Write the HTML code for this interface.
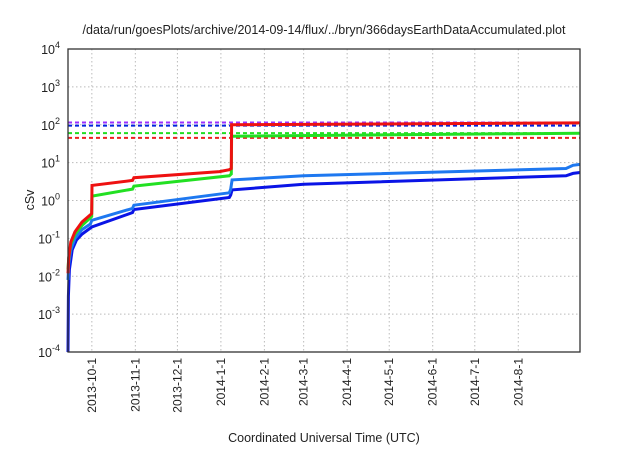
<!DOCTYPE html>
<html><head><meta charset="utf-8"><style>
body{margin:0;background:#fff;}
svg text{font-family:"Liberation Sans",sans-serif;fill:#222;}
</style></head><body>
<svg id="chart" width="640" height="448" xmlns="http://www.w3.org/2000/svg">
<text x="324" y="34" font-size="12.5" text-anchor="middle">/data/run/goesPlots/archive/2014-09-14/flux/../bryn/366daysEarthDataAccumulated.plot</text>
<text transform="translate(34,200) rotate(-90)" font-size="12.5" text-anchor="middle">cSv</text>
<text x="324" y="442" font-size="12.5" text-anchor="middle">Coordinated Universal Time (UTC)</text>
<g id="grid"></g><g id="ticks"></g><g id="series"></g>
<rect x="68" y="49" width="512" height="303" fill="none" stroke="#333" stroke-width="1.3"/>
</svg>
<script>
const yExponents=[-4,-3,-2,-1,0,1,2,3,4];
const xTickLabels=["2013-10-1","2013-11-1","2013-12-1","2014-1-1","2014-2-1","2014-3-1","2014-4-1","2014-5-1","2014-6-1","2014-7-1","2014-8-1"];
const xTickDays=[17,48,78,109,140,168,199,229,260,290,321];
const redDays=[0,0.5,2,5,10,16,16.9,17.1,46,47,108,115,116.4,116.6,365];
const redVals=[0.012,0.03,0.08,0.15,0.27,0.42,0.45,2.5,3.4,4,5.8,6.5,7,100,112];
const greenDays=[0,0.5,2,5,10,16,16.9,17.1,46,47,115,116.4,116.6,365];
const greenVals=[0.015,0.03,0.07,0.13,0.22,0.35,0.38,1.3,2.0,2.4,4.5,5,50,60];
const lblueDays=[0,0.5,2,5,10,16,17,46,47,115,116,117,168,355,360,365];
const lblueVals=[0.008,0.02,0.05,0.1,0.17,0.24,0.3,0.62,0.75,1.6,2,3.5,4.5,7,8.5,9];
const blueDays=[0,0.3,1,3,6,10,17,46,47,115,116,117,168,355,360,365];
const blueVals=[0.0001,0.003,0.015,0.05,0.09,0.13,0.2,0.48,0.58,1.2,1.4,1.9,2.7,4.5,5.2,5.5];
const limitNames=["purple","blue","green","red"];
const limitVals=[115,95,60,45];
const limitColors=["#9b30ff","#0022dd","#22dd22","#ee2020"];

const X0=68,X1=580,Y0=352,Y1=49,DAYS=365;
const xs=d=>X0+(X1-X0)*d/DAYS;
const ys=v=>Y0-(Y0-Y1)*(Math.log10(v)+4)/8;
const NS="http://www.w3.org/2000/svg";
function mk(tag,parent){const e=document.createElementNS(NS,tag);document.getElementById(parent).appendChild(e);return e;}
yExponents.forEach(p=>{
  const y=ys(Math.pow(10,p));
  if(p>-4&&p<4){const g=mk('line','grid');
  
  
  g.setAttribute('x1',X0);g.setAttribute('x2',X1);g.setAttribute('y1',y);g.setAttribute('y2',y);
  g.setAttribute('stroke','#bbb');g.setAttribute('stroke-dasharray','1.5,2.5');}
  const t=mk('text','ticks');
  
  
  t.setAttribute('x',X0-8);t.setAttribute('y',y+5);t.setAttribute('text-anchor','end');t.setAttribute('font-size','12.5');
  t.innerHTML='10<tspan font-size="9" dy="-6">'+p+'</tspan>';
});
xTickDays.forEach((d,i)=>{
  const x=xs(d);
  const g=mk('line','grid');
  
  
  g.setAttribute('x1',x);g.setAttribute('x2',x);g.setAttribute('y1',Y1);g.setAttribute('y2',Y0);
  g.setAttribute('stroke','#bbb');g.setAttribute('stroke-dasharray','1.5,2.5');
  const t=mk('text','ticks');
  
  
  t.setAttribute('transform','translate('+(x+4)+',358) rotate(-90)');
  t.setAttribute('text-anchor','end');t.setAttribute('font-size','12');
  t.textContent=xTickLabels[i];
});
limitVals.forEach((v,i)=>{
  const l=mk('line','series');
  
  
  l.setAttribute('x1',X0);l.setAttribute('x2',X1);l.setAttribute('y1',ys(v));l.setAttribute('y2',ys(v));
  l.setAttribute('stroke',limitColors[i]);l.setAttribute('stroke-width','2');l.setAttribute('stroke-dasharray','4,3');
});
function series(days,vals,color,name){
  const p=mk('path','series');
  
  
  p.setAttribute('d',days.map((d,i)=>(i?'L':'M')+xs(d).toFixed(1)+','+ys(vals[i]).toFixed(1)).join(''));
  p.setAttribute('fill','none');p.setAttribute('stroke',color);p.setAttribute('stroke-width','3');
}
series(blueDays,blueVals,'#0a14e6','series-blue');
series(lblueDays,lblueVals,'#1e78f0','series-light-blue');
series(greenDays,greenVals,'#22e022','series-green');
series(redDays,redVals,'#ee1111','series-red');
</script>
</body></html>
